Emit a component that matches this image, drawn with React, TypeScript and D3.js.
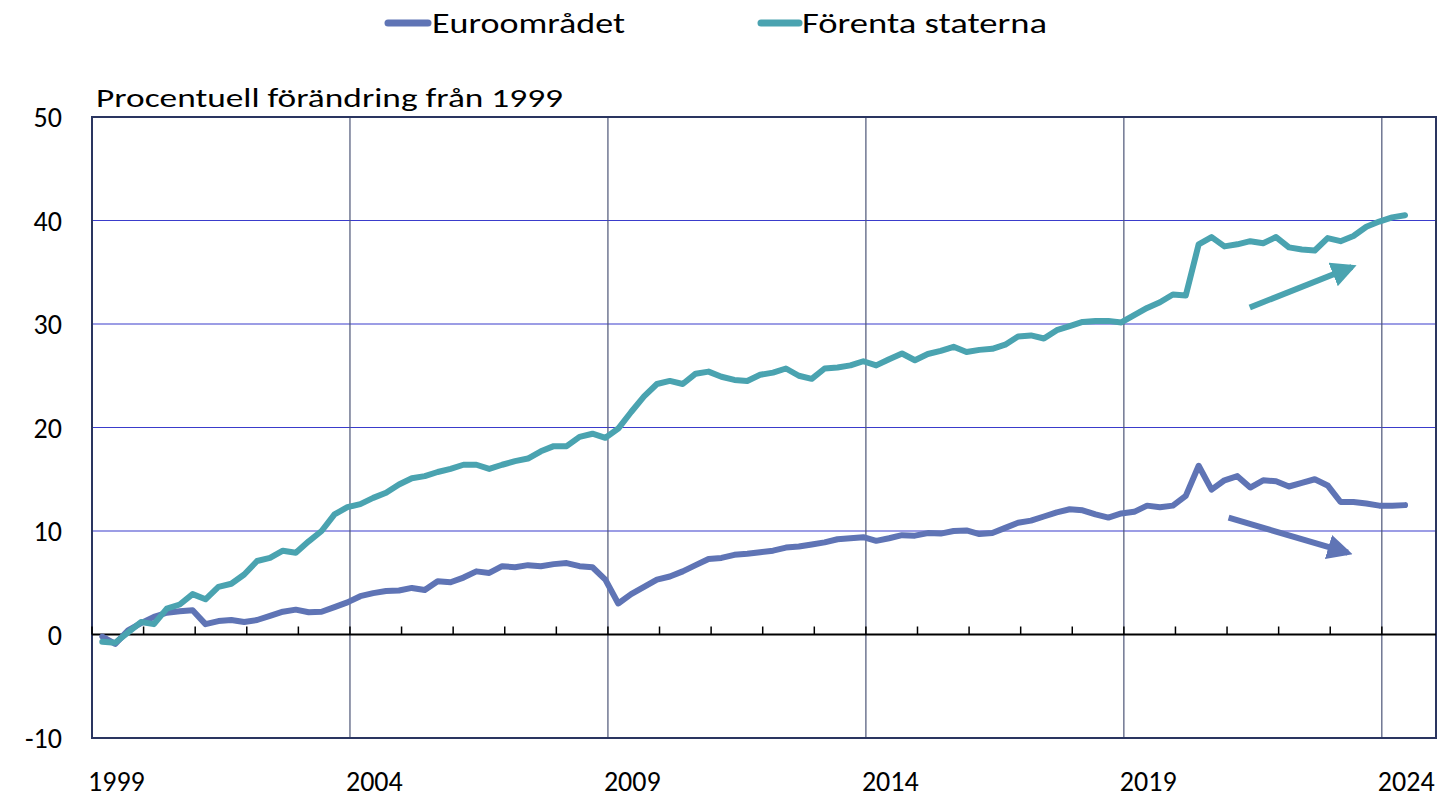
import React from 'react'
import { scaleLinear, line, range } from 'd3'

// quarterly series, 1999Q1 .. 2024Q2, % change since 1999
const euroArea = [
  -0.2, -0.9, 0.4, 1.1, 1.7, 2.1, 2.25, 2.35, 1.0, 1.3, 1.4, 1.2, 1.4, 1.8, 2.2, 2.4, 2.15, 2.2, 2.65, 3.1,
  3.7, 4.0, 4.2, 4.25, 4.5, 4.3, 5.15, 5.05, 5.5, 6.1, 5.95, 6.6, 6.5, 6.7, 6.6, 6.8, 6.9, 6.6, 6.5, 5.3,
  3.0, 3.9, 4.6, 5.3, 5.6, 6.1, 6.7, 7.3, 7.4, 7.7, 7.8, 7.95, 8.1, 8.4, 8.5, 8.7, 8.9, 9.2, 9.3, 9.4,
  9.05, 9.3, 9.6, 9.55, 9.8, 9.75, 10.0, 10.05, 9.7, 9.8, 10.3, 10.8, 11.0, 11.4, 11.8, 12.1, 12.0, 11.6, 11.3, 11.7,
  11.85, 12.45, 12.3, 12.45, 13.4, 16.3, 14.0, 14.9, 15.3, 14.2, 14.9, 14.8, 14.3, 14.65, 15.0, 14.4, 12.8, 12.8, 12.65, 12.45,
  12.45, 12.5,
]
const unitedStates = [
  -0.7, -0.8, 0.2, 1.2, 1.0, 2.5, 2.9, 3.9, 3.4, 4.6, 4.9, 5.8, 7.1, 7.4, 8.1, 7.9, 9.0, 10.0, 11.6, 12.3,
  12.6, 13.2, 13.7, 14.5, 15.1, 15.3, 15.7, 16.0, 16.4, 16.4, 16.0, 16.4, 16.75, 17.0, 17.7, 18.2, 18.2, 19.1, 19.4, 19.0,
  19.9, 21.5, 23.0, 24.2, 24.5, 24.2, 25.2, 25.4, 24.9, 24.6, 24.5, 25.1, 25.3, 25.7, 25.0, 24.7, 25.7, 25.8, 26.0, 26.4,
  26.0, 26.6, 27.15, 26.5, 27.1, 27.4, 27.8, 27.3, 27.5, 27.6, 28.0, 28.8, 28.9, 28.6, 29.4, 29.8, 30.2, 30.3, 30.3, 30.15,
  30.85, 31.55, 32.1, 32.85, 32.75, 37.7, 38.4, 37.5, 37.7, 38.0, 37.8, 38.4, 37.4, 37.2, 37.1, 38.3, 38.0, 38.5, 39.4, 39.9,
  40.3, 40.5,
]
const yTicks = [-10, 0, 10, 20, 30, 40, 50]
const yearLabels = [1999, 2004, 2009, 2014, 2019, 2024]
const yearTicks = range(1999, 2025)
// trend arrows: [startYear, startValue, endYear, endValue]
const usArrow = [2021.44, 31.6, 2023.42, 35.5]
const euroArrow = [2021.03, 11.3, 2023.34, 7.9]

const W = 1449
const H = 798
const left = 92, right = 1436, top = 117, bottom = 738
const euroColor = '#5f74b5'
const usColor = '#4aa3b0'
const font = 'Carlito, Lato, "Open Sans", sans-serif'

const App = () => {
  const x = scaleLinear().domain([1999, 2025.05]).range([left, right])
  const y = scaleLinear().domain([-10, 50]).range([bottom, top])
  const t = (i: number) => 1999 + (i + 0.8) / 4

  const path = line<number>()
    .x((_, i) => x(t(i)))
    .y((d) => y(d))

  const arrow = (a: number[], color: string, id: string) => (
    <line
      x1={x(a[0])} y1={y(a[1])} x2={x(a[2])} y2={y(a[3])}
      stroke={color} strokeWidth={6} markerEnd={`url(#${id})`}
    />
  )

  return (
    <svg width={W} height={H} style={{ position: 'absolute', left: 0, top: 0, background: '#fff' }}>
      <defs>
        <marker id="headUs" viewBox="0 0 10 10" refX="8" refY="5" markerWidth="4.2" markerHeight="4.2" orient="auto" markerUnits="strokeWidth">
          <path d="M0,0 L10,5 L0,10 z" fill={usColor} />
        </marker>
        <marker id="headEu" viewBox="0 0 10 10" refX="8" refY="5" markerWidth="4.2" markerHeight="4.2" orient="auto" markerUnits="strokeWidth">
          <path d="M0,0 L10,5 L0,10 z" fill={euroColor} />
        </marker>
      </defs>

      {/* legend */}
      <line x1={388} x2={428} y1={23} y2={23} stroke={euroColor} strokeWidth={7} strokeLinecap="round" />
      <text x={432} y={33} fontFamily={font} fontSize={28} textLength={193} lengthAdjust="spacingAndGlyphs">Euroområdet</text>
      <line x1={761} x2={799} y1={23} y2={23} stroke={usColor} strokeWidth={7} strokeLinecap="round" />
      <text x={802} y={33} fontFamily={font} fontSize={28} textLength={245} lengthAdjust="spacingAndGlyphs">Förenta staterna</text>

      <text x={96} y={107} fontFamily={font} fontSize={27} textLength={467} lengthAdjust="spacingAndGlyphs">Procentuell förändring från 1999</text>

      {/* grid */}
      {yTicks.filter((v) => v !== 0 && v !== -10 && v !== 50).map((v) => (
        <line key={v} x1={left} x2={right} y1={y(v)} y2={y(v)} stroke="#3a3ccb" strokeWidth={1.2} />
      ))}
      {yearLabels.filter((yr) => yr !== 1999).map((yr) => (
        <line key={yr} x1={x(yr)} x2={x(yr)} y1={top} y2={bottom} stroke="#4c5577" strokeWidth={1.2} />
      ))}
      <rect x={left} y={top} width={right - left} height={bottom - top} fill="none" stroke="#2a3560" strokeWidth={2} />

      {/* zero axis with yearly ticks */}
      <line x1={left} x2={right} y1={y(0)} y2={y(0)} stroke="#000" strokeWidth={2} />
      {yearTicks.map((yr) => (
        <line key={yr} x1={x(yr)} x2={x(yr)} y1={y(0)} y2={y(0) - 8} stroke="#000" strokeWidth={1.5} />
      ))}

      {/* y labels */}
      {yTicks.map((v) => (
        <text key={v} x={62} y={y(v) + 10} textAnchor="end" fontFamily={font} fontSize={28}>{v}</text>
      ))}
      {/* x labels */}
      {yearLabels.map((yr) => (
        <text key={yr} x={x(yr) - 4} y={791} fontFamily={font} fontSize={28}>{yr}</text>
      ))}

      {/* series */}
      <path d={path(euroArea) || ''} fill="none" stroke={euroColor} strokeWidth={6} strokeLinejoin="round" strokeLinecap="round" />
      <path d={path(unitedStates) || ''} fill="none" stroke={usColor} strokeWidth={6} strokeLinejoin="round" strokeLinecap="round" />

      {arrow(usArrow, usColor, 'headUs')}
      {arrow(euroArrow, euroColor, 'headEu')}
    </svg>
  )
}

export default App
